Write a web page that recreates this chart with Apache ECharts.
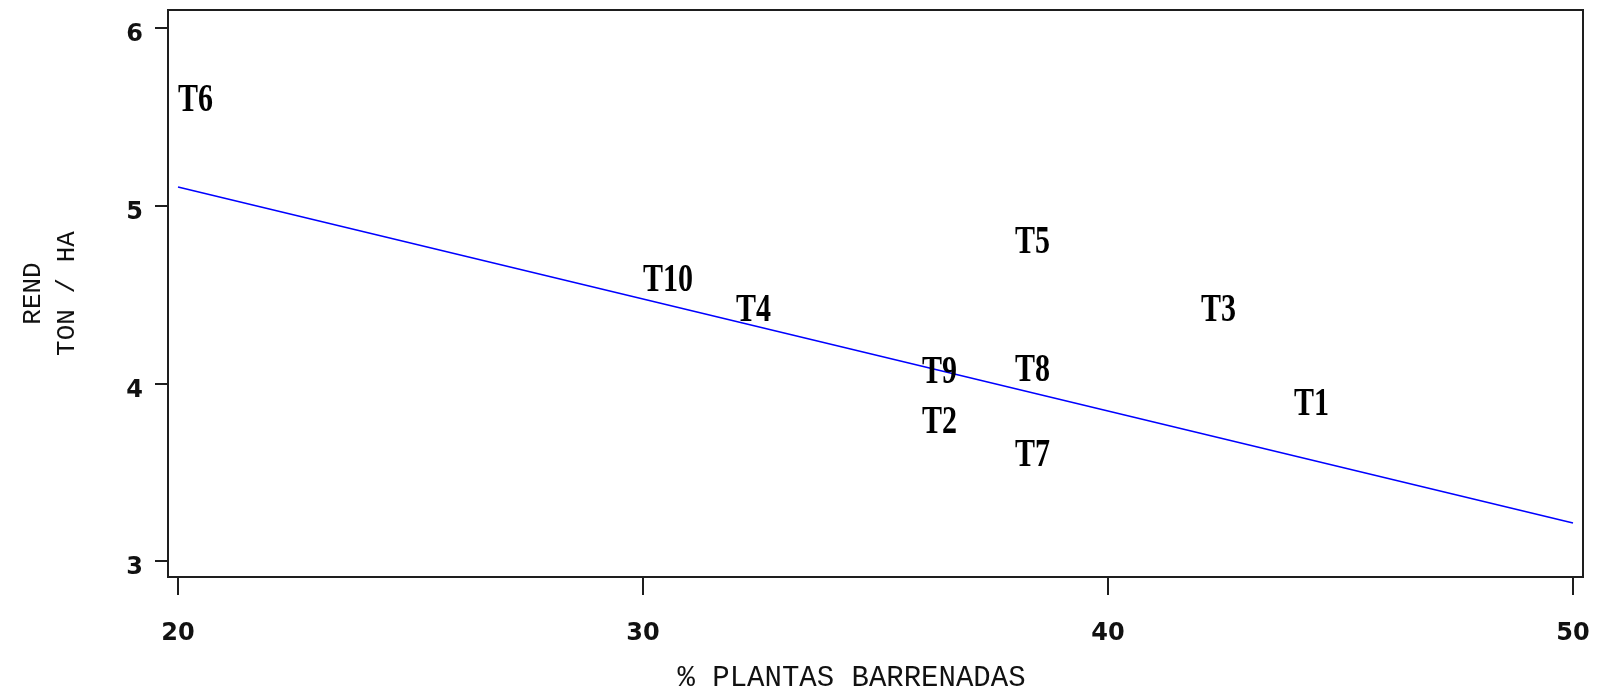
<!DOCTYPE html>
<html>
<head>
<meta charset="utf-8">
<title>Rendimiento vs % plantas barrenadas</title>
<script src="https://cdn.jsdelivr.net/npm/echarts@6/dist/echarts.min.js"></script>
<style>
  html, body { margin: 0; padding: 0; background: #ffffff; }
  #chart { width: 1599px; height: 688px; }
</style>
</head>
<body>
<div id="chart"></div>
<script>
// Treatment labels and their observed values
const treatments = ['T6', 'T10', 'T4', 'T9', 'T2', 'T5', 'T8', 'T7', 'T3', 'T1'];
const pctBored   = [20, 30, 32, 36, 36, 38, 38, 38, 42, 44];          // % PLANTAS BARRENADAS
const yieldTonHa = [5.6, 4.59, 4.42, 4.07, 3.79, 4.80, 4.08, 3.60, 4.42, 3.89]; // REND TON / HA

// Fitted regression line endpoints
const trendX = [20, 50];
const trendY = [5.105, 3.214];

// Axis tick values
const xTicks = [20, 30, 40, 50];
const yTicks = [3, 4, 5, 6];

const pointData = treatments.map((t, i) => [pctBored[i], yieldTonHa[i], t]);
const lineData = trendX.map((x, i) => [x, trendY[i]]);

const axisColor = '#1e1e1e';
const tickFont = { fontFamily: '"DejaVu Sans"', fontWeight: 'bold', fontSize: 24, color: '#111' };

const chart = echarts.init(document.getElementById('chart'), null, { renderer: 'canvas' });

chart.setOption({
  animation: false,
  backgroundColor: '#ffffff',
  grid: {
    left: 168, top: 10, right: 16, bottom: 111,
    containLabel: false,
    outerBoundsMode: 'none',
    show: true, borderColor: axisColor, borderWidth: 2, backgroundColor: 'transparent'
  },
  xAxis: {
    type: 'value',
    min: 19.785, max: 50.215,
    name: '% PLANTAS BARRENADAS',
    nameLocation: 'middle',
    nameGap: 87,
    nameTextStyle: {
      fontFamily: '"Liberation Mono"', fontSize: 29, color: '#111',
      padding: [0, 48, 0, 0]
    },
    axisLine: { show: true, onZero: false, lineStyle: { color: axisColor, width: 2 } },
    axisTick: { show: true, inside: false, length: 18, customValues: xTicks,
                lineStyle: { color: axisColor, width: 2 } },
    axisLabel: Object.assign({ customValues: xTicks, margin: 45 }, tickFont),
    splitLine: { show: false }
  },
  yAxis: {
    type: 'value',
    min: 2.91, max: 6.101,
    name: 'REND\nTON / HA',
    nameLocation: 'middle',
    nameGap: 84,
    nameRotate: 90,
    nameTextStyle: {
      fontFamily: '"Liberation Mono"', fontSize: 26, color: '#111',
      lineHeight: 34, align: 'center'
    },
    axisLine: { show: true, onZero: false, lineStyle: { color: axisColor, width: 2 } },
    axisTick: { show: true, inside: false, length: 13, customValues: yTicks,
                lineStyle: { color: axisColor, width: 2 } },
    axisLabel: Object.assign({ customValues: yTicks, margin: 25,
                               verticalAlign: 'top', lineHeight: 14 }, tickFont),
    splitLine: { show: false }
  },
  series: [
    {
      type: 'line',
      data: lineData,
      showSymbol: false,
      symbol: 'none',
      lineStyle: { color: '#0000ff', width: 1.5 },
      z: 2
    },
    {
      // Each treatment is drawn as its own text mark, anchored at the data point
      type: 'custom',
      data: pointData,
      encode: { x: 0, y: 1 },
      z: 3,
      renderItem: function (params, api) {
        const p = api.coord([api.value(0), api.value(1)]);
        return {
          type: 'text',
          x: p[0],
          y: p[1],
          scaleY: 1.3,
          style: {
            text: treatments[params.dataIndex],
            x: 0, y: 1.5,
            align: 'left',
            verticalAlign: 'middle',
            fontFamily: '"Liberation Serif"',
            fontWeight: 'bold',
            fontSize: 30,
            fill: '#000'
          }
        };
      }
    }
  ]
});
</script>
</body>
</html>
